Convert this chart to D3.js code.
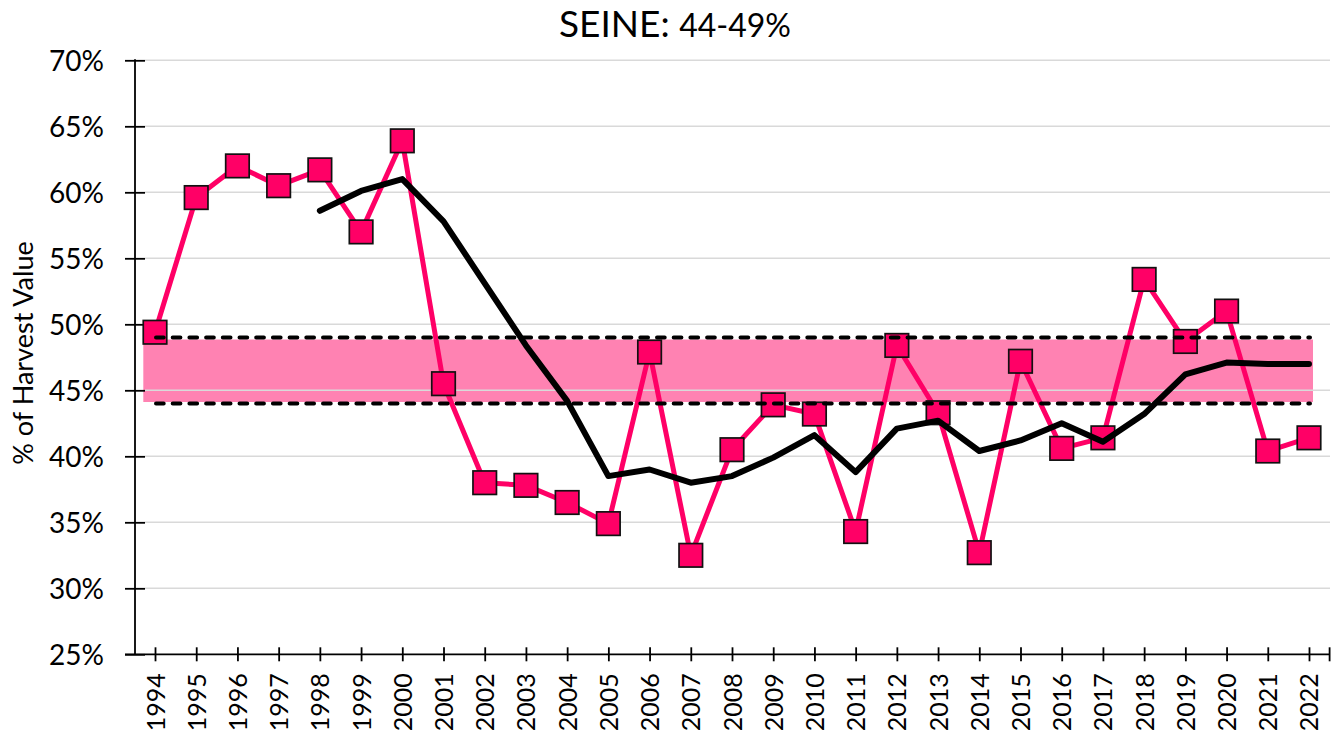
<!DOCTYPE html>
<html>
<head>
<meta charset="utf-8">
<script src="https://cdn.jsdelivr.net/npm/d3@7"></script>
<style>
  html, body { margin: 0; padding: 0; background: #fff; }
  svg { display: block; font-family: Lato, "Open Sans", sans-serif; }
</style>
</head>
<body>
<svg id="chart" width="1335" height="736"></svg>
<script>
// ---- data ----
const years = ["1994","1995","1996","1997","1998","1999","2000","2001","2002","2003","2004","2005","2006","2007","2008","2009","2010","2011","2012","2013","2014","2015","2016","2017","2018","2019","2020","2021","2022"];
const shareValues = [49.4, 59.6, 62.0, 60.5, 61.7, 57.0, 63.9, 45.5, 38.0, 37.8, 36.5, 34.9, 47.9, 32.5, 40.5, 43.9, 43.2, 34.3, 48.4, 43.3, 32.7, 47.2, 40.6, 41.4, 53.4, 48.7, 51.0, 40.4, 41.4];
const movingAvg = [null, null, null, null, 58.6, 60.1, 61.0, 57.8, 53.1, 48.4, 44.2, 38.5, 39.0, 38.0, 38.5, 39.9, 41.6, 38.8, 42.1, 42.7, 40.4, 41.2, 42.5, 41.1, 43.2, 46.2, 47.1, 47.0, 47.0];
const targetLow = 44;
const targetHigh = 49;
const yTicks = [25, 30, 35, 40, 45, 50, 55, 60, 65, 70];
const yTickLabels = ["25%","30%","35%","40%","45%","50%","55%","60%","65%","70%"];
const titleMain = "SEINE:";
const titleRange = "44-49%";
const yTitle = "% of Harvest Value";

// ---- layout ----
const svg = d3.select("#chart");
const axisX = 135;
const plotRight = 1330;
const yTop = 60.3, yBottom = 654.3;

const x = d3.scalePoint().domain(years).range([134.4, 1329.6]).padding(0.5);
const y = d3.scaleLinear().domain([25, 70]).range([yBottom, yTop]);

// band fill
svg.append("rect")
  .attr("x", x(years[0]) - 11.7)
  .attr("y", y(targetHigh) + 2)
  .attr("width", (x(years[years.length-1]) + 4) - (x(years[0]) - 11.7))
  .attr("height", (y(targetLow) - 1.5) - (y(targetHigh) + 2))
  .attr("fill", "#ff82b2");

// gridlines
svg.append("g").selectAll("line").data(yTicks.filter(d => d !== 25)).join("line")
  .attr("x1", axisX + 10).attr("x2", plotRight)
  .attr("y1", d => y(d)).attr("y2", d => y(d))
  .attr("stroke", "#d9d9d9").attr("stroke-width", 1.6);

// y axis
const yAxis = d3.axisLeft(y).tickValues(yTicks).tickFormat((d, i) => yTickLabels[i]).tickSize(10).tickPadding(0);
const gy = svg.append("g").attr("transform", `translate(${axisX},0)`).call(yAxis);
gy.select(".domain").remove();
gy.selectAll(".tick line").attr("x1", -10).attr("x2", 10).attr("stroke", "#000").attr("stroke-width", 1.8);
gy.selectAll(".tick text").attr("x", -31).attr("dy", "0.36em")
  .style("font-family", "Lato, sans-serif").style("font-size", "28px").attr("fill", "#000");
svg.append("line").attr("x1", axisX).attr("x2", axisX).attr("y1", yTop - 1).attr("y2", yBottom)
  .attr("stroke", "#000").attr("stroke-width", 1.8);

// x axis
const xAxis = d3.axisBottom(x).tickSize(7).tickPadding(0);
const gx = svg.append("g").attr("transform", `translate(0,${yBottom})`).call(xAxis);
gx.select(".domain").remove();
gx.selectAll(".tick line").attr("y1", -7).attr("y2", 7).attr("stroke", "#000").attr("stroke-width", 1.8);
gx.selectAll(".tick text")
  .attr("transform", "rotate(-90)")
  .attr("x", -19).attr("y", 0).attr("dy", "0.36em")
  .attr("text-anchor", "end")
  .style("font-family", "Lato, sans-serif").style("font-size", "25px").attr("fill", "#000");
svg.append("line").attr("x1", x.range()[1]).attr("x2", x.range()[1])
  .attr("y1", yBottom - 7).attr("y2", yBottom + 7).attr("stroke", "#000").attr("stroke-width", 1.8);
svg.append("line").attr("x1", axisX - 10).attr("x2", plotRight).attr("y1", yBottom).attr("y2", yBottom)
  .attr("stroke", "#000").attr("stroke-width", 1.8);

// pink series line
const data = years.map((yr, i) => ({ yr, v: shareValues[i], a: movingAvg[i] }));
svg.append("path").datum(data)
  .attr("d", d3.line().x(d => x(d.yr)).y(d => y(d.v)))
  .attr("fill", "none").attr("stroke", "#ff0066").attr("stroke-width", 5)
  .attr("stroke-linejoin", "round");

// markers
const ms = 23.5;
svg.append("g").selectAll("rect").data(data).join("rect")
  .attr("x", d => x(d.yr) - ms/2).attr("y", d => y(d.v) - ms/2)
  .attr("width", ms).attr("height", ms)
  .attr("fill", "#ff0066").attr("stroke", "#111").attr("stroke-width", 1.7);

// dashed target lines
svg.append("g").selectAll("line").data([targetLow, targetHigh]).join("line")
  .attr("x1", x(years[0]) + 1).attr("x2", x(years[years.length-1]) + 1)
  .attr("y1", d => y(d)).attr("y2", d => y(d))
  .attr("stroke", "#000").attr("stroke-width", 4)
  .attr("stroke-dasharray", "7.7,9").attr("stroke-linecap", "round");

// moving average line
svg.append("path").datum(data.filter(d => d.a !== null))
  .attr("d", d3.line().x(d => x(d.yr)).y(d => y(d.a)))
  .attr("fill", "none").attr("stroke", "#000").attr("stroke-width", 6)
  .attr("stroke-linejoin", "round").attr("stroke-linecap", "round");

// title
const title = svg.append("text").attr("x", 675).attr("y", 37).attr("text-anchor", "middle")
  .style("font-family", "Lato, sans-serif").attr("fill", "#000");
title.append("tspan").style("font-size", "37px").text(titleMain + " ");
title.append("tspan").style("font-size", "32px").text(titleRange);

// y title
svg.append("text").attr("transform", "translate(33,353) rotate(-90)")
  .attr("text-anchor", "middle")
  .style("font-family", "Lato, sans-serif").style("font-size", "27px").attr("fill", "#000")
  .text(yTitle);
</script>
</body>
</html>
